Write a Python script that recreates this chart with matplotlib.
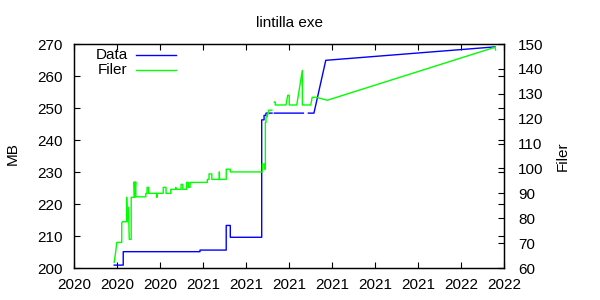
import numpy as np
import matplotlib
matplotlib.use("Agg")
import matplotlib.pyplot as plt

plt.rcParams["font.family"] = ["Liberation Sans", "DejaVu Sans"]
plt.rcParams["font.size"] = 11

nan = np.nan

# x in months from the first axis tick (ticks every 2 months)
xticks = list(range(0, 21, 2))
xtick_labels = ["2020", "2020", "2020", "2021", "2021", "2021",
                "2021", "2021", "2021", "2022", "2022"]

# Data (MB, left axis)
data_x = [1.87, 2.29, 2.29, 5.86, 5.86, 7.08, 7.08, 7.27, 7.27, 8.73, 8.73,
          8.84, 8.84, 8.93, 8.93, 9.21, nan, 9.32, 10.67, nan, 10.90, 11.16,
          11.71, 19.58]
data_mb = [200.9, 200.9, 205.1, 205.1, 205.6, 205.6, 213.3, 213.3, 209.6, 209.6,
           246.3, 246.3, 247.7, 247.7, 248.4, 248.4, nan, 248.4, 248.4, nan,
           248.4, 248.4, 264.9, 269.1]

# Filer (count, right axis)
filer_x = [1.87, 1.94, 1.99, 2.22, 2.22, 2.25, 2.45, 2.45, 2.47, 2.53, 2.55,
           2.57, 2.66, 2.66, 2.80, 2.80, 2.82, 2.87, 2.88, 3.34, 3.34, 3.40,
           3.40, 3.47, 3.47, 3.85, 3.85, 3.86, 4.15, 4.15, 4.28, 4.28, 4.50,
           4.50, 4.73, 4.73, 4.75, 4.98, 4.98, 5.06, 5.06, 5.24, 5.24, 5.32,
           5.32, 5.40, 5.40, 6.20, 6.20, 6.28, 6.28, 6.41, 6.41, 6.76, 6.76,
           6.77, 7.08, 7.08, 7.27, 7.27, 8.76, 8.76, 8.85, 8.85, 8.90, 8.90,
           8.93, 8.93, 8.99, 8.99, 9.04, 9.04, 9.20, nan,
           9.32, 9.36, 9.36, 9.86, 9.94, 10.01, 10.01, 10.36, 10.62, 10.62,
           11.01, 11.08, 11.26, 11.78, 19.58, 19.61]
filer_n = [62.3, 66.5, 70.3, 70.3, 78.0, 78.6, 78.6, 88.4, 78.6, 84.4, 78.6,
           71.5, 71.5, 88.4, 88.4, 94.6, 88.4, 94.6, 88.6, 88.6, 90.0, 90.0,
           92.4, 92.4, 90.0, 90.0, 88.4, 90.0, 90.0, 92.4, 92.4, 90.0, 90.0,
           91.6, 91.6, 92.4, 91.6, 91.6, 93.6, 93.6, 91.6, 91.6, 94.4, 94.4,
           92.4, 92.4, 94.4, 94.4, 95.6, 95.6, 97.8, 97.8, 95.6, 95.6, 98.6,
           95.6, 95.6, 99.7, 99.7, 98.6, 98.6, 101.8, 101.8, 99.7, 99.7, 118.5,
           118.5, 120.7, 120.7, 121.9, 121.9, 123.4, 123.4, nan,
           126.7, 126.7, 125.5, 125.5, 129.4, 129.4, 125.5, 125.5, 139.4, 125.5,
           125.5, 128.6, 128.6, 127.4, 148.7, 147.6]

fig = plt.figure(figsize=(6, 3), dpi=100)
ax = fig.add_axes([74 / 600, 1 - 268 / 300, 430 / 600, 224 / 300])
ax2 = ax.twinx()

ax.plot(data_x, data_mb, color="#0000ff", linewidth=1.0)
ax2.plot(filer_x, filer_n, color="#00ff00", linewidth=1.0)

ax.set_xlim(0, 20)
ax.set_ylim(200, 270)
ax2.set_ylim(60, 150)
ax.set_xticks(xticks)
ax.set_xticklabels(xtick_labels)
ax.set_yticks(range(200, 271, 10))
ax2.set_yticks(range(60, 151, 10))

ax.tick_params(axis="x", direction="in", length=4, width=0.8, top=True, pad=7)
ax.tick_params(axis="y", direction="in", length=4, width=0.8, right=True, pad=8)
ax2.tick_params(axis="y", direction="in", length=4, width=0.8, pad=10)
for a in (ax, ax2):
    for sp in a.spines.values():
        sp.set_linewidth(0.9)
        sp.set_color("black")

ax.set_title("lintilla exe", fontsize=11, pad=12)
fig.text(12.5 / 600, 1 - 154 / 300, "MB", rotation=90, ha="center", va="center")
fig.text(563 / 600, 1 - 156 / 300, "Filer", rotation=90, ha="center", va="center")

# gnuplot-style key: right-aligned text followed by a line sample
for label, color, ky in (("Data", "#0000ff", 0.951), ("Filer", "#00ff00", 0.884)):
    ax.text(0.125, ky, label, transform=ax.transAxes, ha="right", va="center")
    ax.plot([0.144, 0.237], [ky, ky], transform=ax.transAxes,
            color=color, linewidth=1.0)

fig.savefig("out.png", dpi=100, facecolor="white")
